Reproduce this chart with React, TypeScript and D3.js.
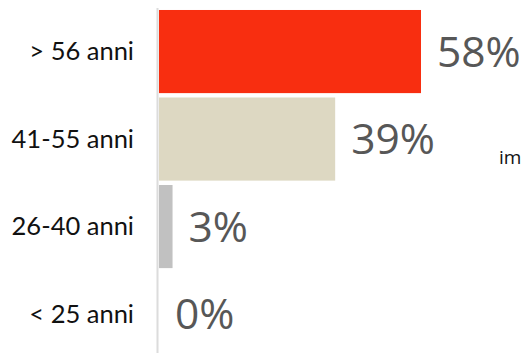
import React from "react";
import * as d3 from "d3";

const categories = ["> 56 anni", "41-55 anni", "26-40 anni", "< 25 anni"];
const values = [58, 39, 3, 0];
const colors = ["#F82E10", "#DDD8C2", "#C1C1C1", "#C1C1C1"];
const valueLabels = ["58%", "39%", "3%", "0%"];
const extraText = "im";

const W = 522;
const H = 353;

export default function App() {
  const y = d3.scaleBand<string>().domain(categories).range([7.8, 357.8]).paddingInner(0.05).paddingOuter(0.025);
  const x = d3.scaleLinear().domain([0, 58]).range([159, 421]);
  return (
    <svg width={W} height={H} style={{ position: "absolute", left: 0, top: 0, background: "#fff" }}>
      <line x1={157.5} x2={157.5} y1={8} y2={H} stroke="#DCDCDC" strokeWidth={2} />
      {categories.map((c, i) => {
        const y0 = y(c)!;
        const bw = y.bandwidth();
        const cy = y0 + bw / 2;
        return (
          <g key={c}>
            <rect x={x(0)} y={y0} width={x(values[i]) - x(0)} height={bw} fill={colors[i]} />
            <text x={134} y={cy} dy="0.35em" textAnchor="end" fontFamily="Lato, sans-serif" fontSize={25.5} fill="#111">
              {c}
            </text>
            <text x={x(values[i]) + 16} y={cy} dy="0.36em" fontFamily="'Open Sans', sans-serif" fontSize={42.5} fill="#575757">
              {valueLabels[i]}
            </text>
          </g>
        );
      })}
      <text x={499} y={164} fontFamily="'Open Sans', sans-serif" fontSize={19} fill="#111">{extraText}</text>
    </svg>
  );
}
